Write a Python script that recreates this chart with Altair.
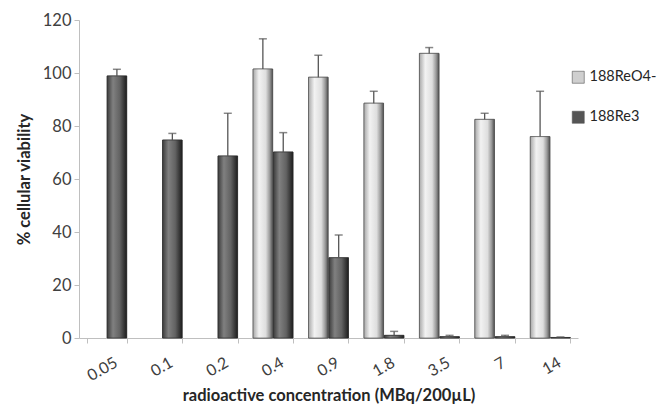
import altair as alt
import pandas as pd

conc = ["0.05", "0.1", "0.2", "0.4", "0.9", "1.8", "3.5", "7", "14"]
series = ["188ReO4-", "188Re3"]
reo4 = [None, None, None, 101.5, 98.4, 88.6, 107.4, 82.5, 76.0]
reo4_err = [None, None, None, 11.4, 8.3, 4.5, 2.2, 2.3, 17.1]
re3 = [98.9, 74.7, 68.7, 70.2, 30.3, 1.0, 0.5, 0.5, 0.2]
re3_err = [2.5, 2.5, 16.1, 7.3, 8.6, 1.5, 0.5, 0.5, 0.2]

rows = []
for c, v, e in zip(conc, reo4, reo4_err):
    if v is not None:
        rows.append({"conc": c, "series": series[0], "value": v, "upper": v + e})
for c, v, e in zip(conc, re3, re3_err):
    rows.append({"conc": c, "series": series[1], "value": v, "upper": v + e})
df = pd.DataFrame(rows)

font = "Lato"

x = alt.X("conc:N", sort=conc, title="radioactive concentration (MBq/200µL)",
          scale=alt.Scale(paddingInner=0.28, paddingOuter=0.14),
          axis=alt.Axis(labelAngle=-30, labelAlign="right", labelBaseline="top",
                        labelFontSize=16, labelColor="#404040", labelFont=font,
                        tickBand="extent", tickSize=5, tickColor="#bfbfbf",
                        domainColor="#bfbfbf", labelPadding=11, labelOffset=5,
                        titleFontSize=16.5, titleFont=font, titleFontWeight="bold",
                        titleColor="#262626", titlePadding=4))
xo = alt.XOffset("series:N", sort=series, scale=alt.Scale(domain=series, paddingInner=0.04))
y = alt.Y("value:Q", title="% cellular viability",
          scale=alt.Scale(domain=[0, 120], nice=False),
          axis=alt.Axis(values=[0, 20, 40, 60, 80, 100, 120], grid=False,
                        labelFontSize=16.5, labelColor="#404040", labelFont=font,
                        tickSize=5, tickColor="#bfbfbf", domainColor="#bfbfbf",
                        labelPadding=3, titleFontSize=16.5, titleFont=font,
                        titleFontWeight="bold", titleColor="#262626", titlePadding=10))

base = alt.Chart(df)

bars = base.mark_bar(stroke="#3a3a3a", strokeWidth=0.6).encode(
    x=x, xOffset=xo, y=y,
    fill=alt.Fill("series:N", sort=series,
                  scale=alt.Scale(domain=series, range=["#cfcfcf", "#555555"]),
                  legend=alt.Legend(title=None, orient="none", legendX=492, legendY=50,
                                    symbolType="square", symbolSize=144,
                                    symbolStrokeColor="#555", symbolStrokeWidth=0.6,
                                    labelFontSize=14.5, labelFont=font, labelColor="#262626",
                                    rowPadding=24, labelOffset=4, labelLimit=200)),
)

light_grad = alt.Gradient(gradient="linear", x1=0, x2=1, y1=0, y2=0, stops=[
    alt.GradientStop(color="#a8a8a8", offset=0),
    alt.GradientStop(color="#f2f2f2", offset=0.3),
    alt.GradientStop(color="#dedede", offset=0.65),
    alt.GradientStop(color="#9a9a9a", offset=0.85),
    alt.GradientStop(color="#505050", offset=1)])
dark_grad = alt.Gradient(gradient="linear", x1=0, x2=1, y1=0, y2=0, stops=[
    alt.GradientStop(color="#3c3c3c", offset=0),
    alt.GradientStop(color="#808080", offset=0.3),
    alt.GradientStop(color="#626262", offset=0.65),
    alt.GradientStop(color="#3a3a3a", offset=0.85),
    alt.GradientStop(color="#1e1e1e", offset=1)])

light = base.transform_filter(alt.datum.series == series[0]).mark_bar(
    color=light_grad, stroke="#4a4a4a", strokeWidth=0.6).encode(x=x, xOffset=xo, y=y)
dark = base.transform_filter(alt.datum.series == series[1]).mark_bar(
    color=dark_grad, stroke="#2a2a2a", strokeWidth=0.6).encode(x=x, xOffset=xo, y=y)

err = base.mark_rule(color="#555555", strokeWidth=1.3).encode(
    x=x, xOffset=xo, y="value:Q", y2="upper:Q")
cap = base.mark_tick(color="#555555", thickness=1.5, size=8, orient="horizontal").encode(
    x=x, xOffset=xo, y="upper:Q")

chart = alt.layer(bars, light, dark, err, cap).properties(
    width=499, height=318,
    autosize=alt.AutoSizeParams(type="none"),
    padding={"left": 71, "top": 12, "right": 82, "bottom": 69},
).configure_view(stroke=None)

chart.save("out.html", embed_options={"renderer": "svg", "actions": False})
